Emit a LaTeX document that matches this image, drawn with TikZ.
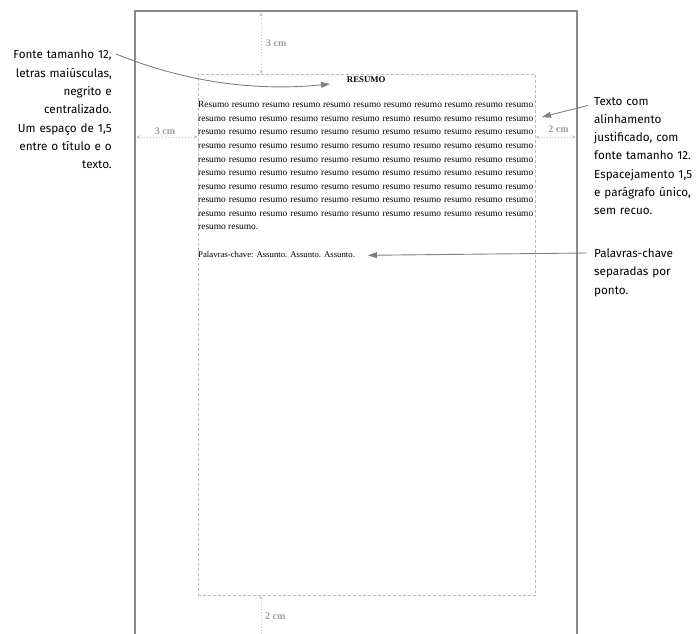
\documentclass[tikz,border=0pt]{standalone}
\usepackage{fontspec}
\setmainfont{Liberation Serif}
\newfontfamily\annfont{Fira Sans}
\usetikzlibrary{arrows.meta}
\definecolor{pageline}{RGB}{138,138,138}
\definecolor{dimline}{RGB}{196,196,196}
\definecolor{dimtext}{RGB}{158,158,158}
\definecolor{marginbox}{RGB}{185,185,185}
\definecolor{annarrow}{RGB}{128,128,128}
\newcommand\rsline{resumo resumo resumo resumo resumo resumo resumo resumo resumo resumo resumo}
\tikzset{
  pagebox/.style={draw=pageline, line width=2.8pt, line join=miter},
  marginrect/.style={draw=marginbox, line width=0.8pt, dash pattern=on 3pt off 2pt},
  dimarrow/.style={draw=dimline, line width=0.9pt, dotted, {Stealth[length=3.5pt,width=3.5pt,fill=dimline]}-{Stealth[length=3.5pt,width=3.5pt,fill=dimline]}},
  dimarrowtop/.style={draw=dimline, line width=0.9pt, dotted, {Stealth[length=3.5pt,width=3.5pt,fill=dimline]}-},
  dimlabel/.style={font=\fontsize{10}{12}\selectfont\bfseries, text=dimtext, inner sep=0pt},
  annote/.style={font=\annfont\fontsize{11.7}{18.3}\selectfont, inner sep=0pt, text=black},
  annarrowstyle/.style={draw=annarrow, line width=0.9pt, -{Triangle[length=9pt,width=6pt]}},
  bodytext/.style={inner sep=0pt, text width=335pt, align=justify, font=\fontsize{9.4}{13.55}\selectfont},
}
\begin{document}
\begin{tikzpicture}[x=1pt,y=-1pt]
\useasboundingbox (0,0) rectangle (696,634);
% page outline (open at bottom)
\draw[pagebox] (135,634) -- (135,11) -- (577,11) -- (577,634);
% text area
\node[marginrect, minimum width=337.5pt, minimum height=521pt, inner sep=0pt, anchor=north west] (area) at (197.5,73.8) {};
% dimension lines
\coordinate (ptop) at (261,12.5);
\coordinate (pleft) at (136.5,137);
\coordinate (pright) at (575.5,137);
\coordinate (pbot) at (261,634);
\draw[dimarrow] (ptop) -- (area.north -| ptop);
\draw[dimarrow] (pleft) -- (area.west |- pleft);
\draw[dimarrow] (area.east |- pright) -- (pright);
\draw[dimarrowtop] (area.south -| pbot) -- (pbot);
\node[dimlabel, anchor=base west] (d1) at (266,46.5) {3 cm};
\node[dimlabel, anchor=base] (d2) at (165,134.5) {3 cm};
\node[dimlabel, anchor=base] (d3) at (558.5,132.5) {2 cm};
\node[dimlabel, anchor=base west] (d4) at (265,619) {2 cm};
% title and text
\node[inner sep=0pt, anchor=base, font=\fontsize{8.8}{10}\selectfont\bfseries] (title) at (366.25,82.5) {RESUMO};
\node[bodytext, anchor=base west] (body) at (198,107.8) {\tolerance=10000 \parindent=0pt
Resumo resumo resumo resumo resumo resumo resumo resumo resumo resumo resumo\linebreak
\rsline\linebreak \rsline\linebreak \rsline\linebreak \rsline\linebreak
\rsline\linebreak \rsline\linebreak \rsline\linebreak \rsline\linebreak
resumo resumo.};
\node[inner sep=0pt, anchor=base west, font=\fontsize{8.75}{11}\selectfont] (kw) at (198,257.3) {Palavras-chave: Assunto. Assunto. Assunto.};
% annotations
\node[annote, text width=115pt, align=right, anchor=base east] (annL) at (112,59) {Fonte tamanho 12,\\ letras maiúsculas,\\ negrito e\\ centralizado.\\ Um espaço de 1,5\\ entre o título e o\\ texto.};
\node[annote, text width=110pt, align=left, anchor=base west] (annR) at (594,105) {Texto com\\ alinhamento\\ justificado, com\\ fonte tamanho 12.\\ Espacejamento 1,5\\ e parágrafo único,\\ sem recuo.};
\node[annote, text width=110pt, align=left, anchor=base west] (annK) at (594,257.5) {Palavras-chave\\ separadas por\\ ponto.};
% annotation arrows
\coordinate (aL) at (116,54);
\coordinate (tL) at (330,84);
\coordinate (aR) at (588,105.5);
\coordinate (tR) at (542,117);
\coordinate (aK) at (587,253);
\coordinate (tK) at (368,255.3);
\draw[annarrowstyle] (aL) .. controls (180,80) and (250,92) .. (tL);
\draw[annarrowstyle] (aR) -- (tR);
\draw[annarrowstyle] (aK) -- (tK);
\end{tikzpicture}
\end{document}
